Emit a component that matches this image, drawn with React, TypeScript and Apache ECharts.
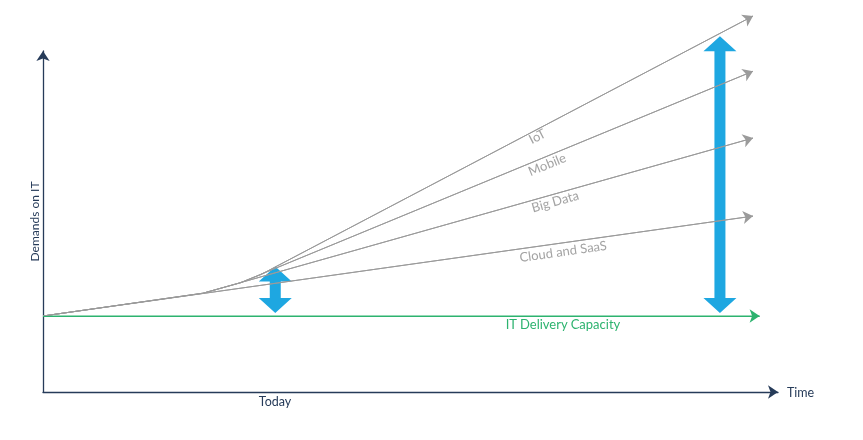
import React, { useEffect, useRef } from "react";
import * as echarts from "echarts";

// Conceptual chart: x = time (0..100), y = demand (0..115)
const seriesNames = ["IoT", "Mobile", "Big Data", "Cloud and SaaS"];
const iotPath = [[0, 22.3], [21.8, 29.0], [26.8, 32.0], [29.5, 34.3], [96.6, 110.3]];
const mobilePath = [[0, 22.3], [21.8, 29.0], [26.8, 32.0], [96.6, 94.1]];
const bigDataPath = [[0, 22.3], [21.8, 29.0], [96.6, 74.5]];
const cloudPath = [[0, 22.3], [96.6, 51.6]];
const capacityPath = [[0, 22.3], [97.5, 22.3]];
// gaps: [time, capacity level, demand level]
const gaps = [[31.6, 23.2, 36.8], [92.1, 23.2, 104.4]];

const axisNames = { x: "Time", y: "Demands on IT", today: "Today", capacity: "IT Delivery Capacity" };

const NAVY = "#263b59";
const GRAY = "#9b9b9b";
const GREEN = "#2db36f";
const BLUE = "#1ea7e1";
const FONT = "Lato";

function demandSeries(name: string, path: number[][]) {
  const n = path.length;
  return {
    type: "line",
    name,
    xAxisIndex: 1,
    yAxisIndex: 1,
    data: path,
    showSymbol: false,
    symbol: "none",
    clip: false,
    silent: true,
    lineStyle: { color: GRAY, width: 1 },
    markLine: {
      silent: true,
      symbol: ["none", "arrow"],
      symbolSize: 10,
      label: { show: false },
      lineStyle: { color: GRAY, width: 1, type: "solid" },
      data: [[{ coord: path[n - 2] }, { coord: path[n - 1] }]],
    },
  };
}

const hiddenAxis = {
  type: "value",
  min: 0,
  show: false,
  axisLine: { show: false },
  axisTick: { show: false },
  axisLabel: { show: false },
  splitLine: { show: false },
};

export default function App() {
  const ref = useRef<HTMLDivElement>(null);
  useEffect(() => {
    if (!ref.current) return;
    const chart = echarts.init(ref.current, null, { renderer: "svg" });
    const labelStyle = (text: string) => ({
      text,
      fill: "#a3a3a3",
      fontSize: 13,
      fontFamily: FONT,
      align: "center",
      verticalAlign: "middle",
    });
    chart.setOption({
      animation: false,
      grid: [
        { left: 43, right: 85, top: 51, bottom: 48 },
        { left: 43, right: 85, top: 0, bottom: 48 },
      ],
      xAxis: [
        {
          type: "value",
          gridIndex: 0,
          min: 0,
          max: 100,
          name: axisNames.x,
          nameLocation: "end",
          nameGap: 9,
          nameTextStyle: { color: NAVY, fontSize: 12.5, fontFamily: FONT, verticalAlign: "middle", align: "left" },
          axisLine: { show: true, symbol: ["none", "arrow"], symbolSize: [10, 10], lineStyle: { color: NAVY, width: 1.3 } },
          axisTick: { show: false },
          axisLabel: { show: false },
          splitLine: { show: false },
        },
        { ...hiddenAxis, gridIndex: 1, max: 100 },
      ],
      yAxis: [
        {
          type: "value",
          gridIndex: 0,
          min: 0,
          max: 100,
          name: axisNames.y,
          nameLocation: "middle",
          nameGap: 3,
          nameRotate: 90,
          nameTextStyle: { color: NAVY, fontSize: 12, fontFamily: FONT },
          axisLine: { show: true, symbol: ["none", "arrow"], symbolSize: [10, 10], lineStyle: { color: NAVY, width: 1.3 } },
          axisTick: { show: false },
          axisLabel: { show: false },
          splitLine: { show: false },
        },
        { ...hiddenAxis, gridIndex: 1, max: 115 },
      ],
      series: [
        demandSeries(seriesNames[3], cloudPath),
        demandSeries(seriesNames[2], bigDataPath),
        demandSeries(seriesNames[1], mobilePath),
        demandSeries(seriesNames[0], iotPath),
        {
          type: "line",
          name: axisNames.capacity,
          xAxisIndex: 1,
          yAxisIndex: 1,
          data: capacityPath,
          showSymbol: false,
          symbol: "none",
          clip: false,
          silent: true,
          lineStyle: { color: GREEN, width: 1.1 },
          markLine: {
            silent: true,
            symbol: ["none", "arrow"],
            symbolSize: 10,
            label: { show: false },
            lineStyle: { color: GREEN, width: 1.1, type: "solid" },
            data: [[{ coord: capacityPath[0] }, { coord: capacityPath[1] }]],
          },
        },
        {
          type: "custom",
          name: "gap",
          xAxisIndex: 1,
          yAxisIndex: 1,
          clip: false,
          silent: true,
          data: gaps,
          renderItem: (params: any, api: any) => {
            const x = api.value(0);
            const lo = api.coord([x, api.value(1)]);
            const hi = api.coord([x, api.value(2)]);
            const cx = lo[0];
            const top = hi[1];
            const bot = lo[1];
            const hh = 15;
            const hw = 16.5;
            const sw = 5.5;
            return {
              type: "polygon",
              shape: {
                points: [
                  [cx, top],
                  [cx + hw, top + hh],
                  [cx + sw, top + hh],
                  [cx + sw, bot - hh],
                  [cx + hw, bot - hh],
                  [cx, bot],
                  [cx - hw, bot - hh],
                  [cx - sw, bot - hh],
                  [cx - sw, top + hh],
                  [cx - hw, top + hh],
                ],
              },
              style: { fill: BLUE },
            };
          },
        },
      ],
      graphic: [
        { type: "text", x: 537, y: 136, rotation: 0.48, style: labelStyle(seriesNames[0]) },
        { type: "text", x: 547, y: 164, rotation: 0.39, style: labelStyle(seriesNames[1]) },
        { type: "text", x: 555, y: 201, rotation: 0.275, style: labelStyle(seriesNames[2]) },
        { type: "text", x: 563, y: 251, rotation: 0.14, style: labelStyle(seriesNames[3]) },
        {
          type: "text",
          x: 563,
          y: 324,
          style: { text: axisNames.capacity, fill: GREEN, fontSize: 13, fontFamily: FONT, align: "center", verticalAlign: "middle" },
        },
        {
          type: "text",
          x: 275,
          y: 401,
          style: { text: axisNames.today, fill: NAVY, fontSize: 12.5, fontFamily: FONT, align: "center", verticalAlign: "middle" },
        },
      ],
    });
    return () => chart.dispose();
  }, []);
  return <div ref={ref} style={{ position: "fixed", left: 0, top: 0, width: 863, height: 440 }} />;
}
